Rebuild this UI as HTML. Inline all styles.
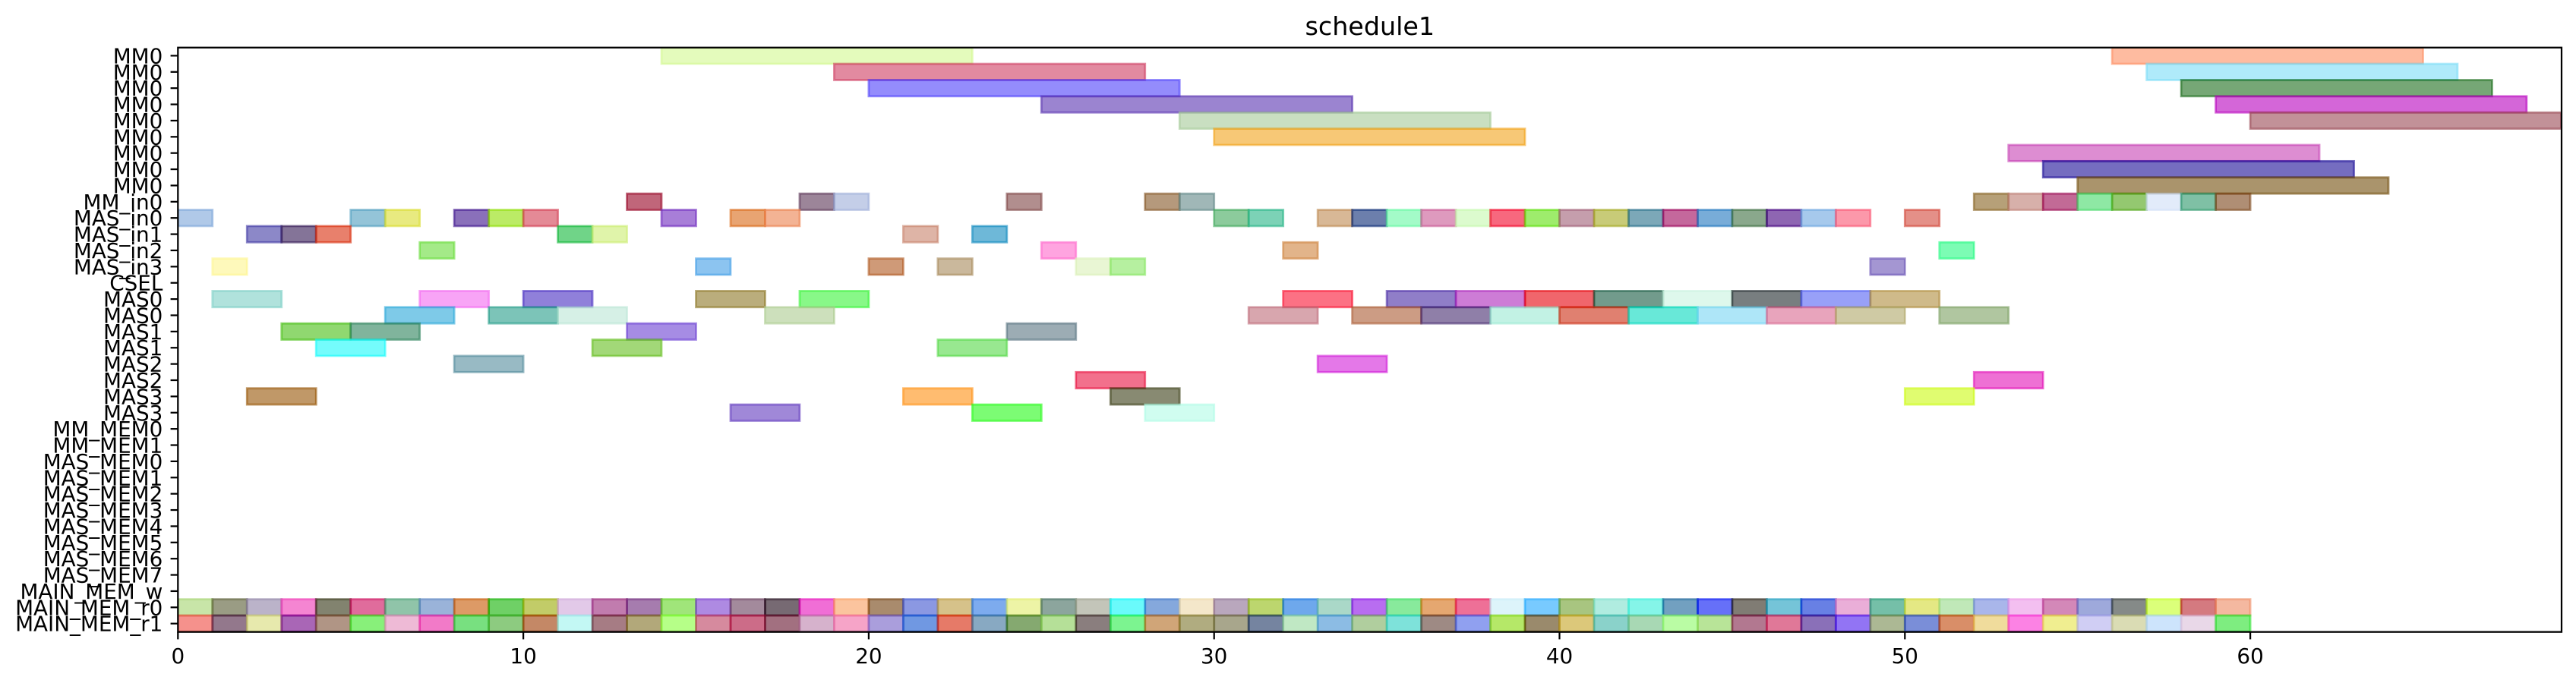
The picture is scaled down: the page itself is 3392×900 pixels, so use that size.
<!DOCTYPE html>
<html lang="en">
<head>
<meta charset="utf-8">
<title>schedule1</title>
<style>
html,body{margin:0;padding:0;background:#fff;width:3392px;height:900px;overflow:hidden}
svg{display:block}
text{font-family:"DejaVu Sans","Liberation Sans",sans-serif;fill:#000}
</style>
</head>
<body>
<svg id="chart" xmlns="http://www.w3.org/2000/svg" width="3392" height="900" viewBox="0 0 3392 900">
  <defs><clipPath id="axes-clip"><rect x="234.3" y="62.7" width="3138.7" height="770"></rect></clipPath></defs>
  <rect width="3392" height="900" fill="#fff"></rect>
  <text x="1803.8" y="46" font-size="33.33" text-anchor="middle">schedule1</text>
  <g id="bars" clip-path="url(#axes-clip)"></g>
  <g id="ticks"></g>
  <rect x="234.3" y="62.7" width="3138.7" height="770" fill="none" stroke="#000" stroke-width="2.22"></rect>
</svg>
<script>
const rowLabels = ["MM0","MM0","MM0","MM0","MM0","MM0","MM0","MM0","MM0","MM_in0","MAS_in0","MAS_in1","MAS_in2","MAS_in3","CSEL","MAS0","MAS0","MAS1","MAS1","MAS2","MAS2","MAS3","MAS3","MM_MEM0","MM_MEM1","MAS_MEM0","MAS_MEM1","MAS_MEM2","MAS_MEM3","MAS_MEM4","MAS_MEM5","MAS_MEM6","MAS_MEM7","MAIN_MEM_w","MAIN_MEM_r0","MAIN_MEM_r1"];
const xTickValues = [0,10,20,30,40,50,60];

const taskRows = [
0,0, 1,1, 2,2, 3,3, 4,4, 5, 6, 7, 8,
9,9,9,9,9,9,9,9,9,9,9,9,9,9,
10,10,10,10,10,10,10,10,10,10,10,10,10,10,10,10,10,10,10,10,10,10,10,10,10,10,10,10,
11,11,11,11,11,11,11,
12,12,12,12,
13,13,13,13,13,13,13,
15,15,15,15,15,15,15,15,15,15,15,15,15,15,
16,16,16,16,16,16,16,16,16,16,16,16,16,16,
17,17,17,17,
18,18,18,
19,19,
20,20,
21,21,21,21,
22,22,22,
34,34,34,34,34,34,34,34,34,34,34,34,34,34,34,34,34,34,34,34,34,34,34,34,34,34,34,34,34,34,
34,34,34,34,34,34,34,34,34,34,34,34,34,34,34,34,34,34,34,34,34,34,34,34,34,34,34,34,34,34,
35,35,35,35,35,35,35,35,35,35,35,35,35,35,35,35,35,35,35,35,35,35,35,35,35,35,35,35,35,35,
35,35,35,35,35,35,35,35,35,35,35,35,35,35,35,35,35,35,35,35,35,35,35,35,35,35,35,35,35,35
];
const taskStarts = [
14,56, 19,57, 20,58, 25,59, 29,60, 30, 53, 54, 55,
13,18,19,24,28,29,52,53,54,55,56,57,58,59,
0,5,6,8,9,10,14,16,17,30,31,33,34,35,36,37,38,39,40,41,42,43,44,45,46,47,48,50,
2,3,4,11,12,21,23,
7,25,32,51,
1,15,20,22,26,27,49,
1,7,10,15,18,32,35,37,39,41,43,45,47,49,
6,9,11,17,31,34,36,38,40,42,44,46,48,51,
3,5,13,24,
4,12,22,
8,33,
26,52,
2,21,27,50,
16,23,28,
0,1,2,3,4,5,6,7,8,9,10,11,12,13,14,15,16,17,18,19,20,21,22,23,24,25,26,27,28,29,
30,31,32,33,34,35,36,37,38,39,40,41,42,43,44,45,46,47,48,49,50,51,52,53,54,55,56,57,58,59,
0,1,2,3,4,5,6,7,8,9,10,11,12,13,14,15,16,17,18,19,20,21,22,23,24,25,26,27,28,29,
30,31,32,33,34,35,36,37,38,39,40,41,42,43,44,45,46,47,48,49,50,51,52,53,54,55,56,57,58,59
];
const taskEnds = [
23,65, 28,66, 29,67, 34,68, 38,69, 39, 62, 63, 64,
14,19,20,25,29,30,53,54,55,56,57,58,59,60,
1,6,7,9,10,11,15,17,18,31,32,34,35,36,37,38,39,40,41,42,43,44,45,46,47,48,49,51,
3,4,5,12,13,22,24,
8,26,33,52,
2,16,21,23,27,28,50,
3,9,12,17,20,34,37,39,41,43,45,47,49,51,
8,11,13,19,33,36,38,40,42,44,46,48,50,53,
5,7,15,26,
6,14,24,
10,35,
28,54,
4,23,29,52,
18,25,30,
1,2,3,4,5,6,7,8,9,10,11,12,13,14,15,16,17,18,19,20,21,22,23,24,25,26,27,28,29,30,
31,32,33,34,35,36,37,38,39,40,41,42,43,44,45,46,47,48,49,50,51,52,53,54,55,56,57,58,59,60,
1,2,3,4,5,6,7,8,9,10,11,12,13,14,15,16,17,18,19,20,21,22,23,24,25,26,27,28,29,30,
31,32,33,34,35,36,37,38,39,40,41,42,43,44,45,46,47,48,49,50,51,52,53,54,55,56,57,58,59,60
];

/* Appearance only: the colour each bar shows over white, one per task. */
const barPalette = [
"e4fbbc","febba0","e28aa0","afeafa","948cfc","76a776","9b84d0","d466d8","c9dfc1","c29198","f7c876","dd8dd2","756dc0","aa946c",
"c0667a","9c8599","c4cee8","b18e8e","b5997c","a0b7b7","b6a078","d7b0aa","c26a96","8ee8a4","94c870","e2ebfa","7fc0a5","af8e74",
"b0c9e8","94c4d8","e8ea80","8a70ba","bbeb66","e48a96","a87ed8","e8a472","f3b394","8ccb9c","7cd2b6","d8b896","6c7fac","a3fbc8","de9abe","dcfbce","f7687e","9eec6c","c59eac","c8cb78","7ca8b8","c4689c","78acd8","8aa88c","8e66b2","a6c9ec","fc98aa","e49088",
"8c88c8","847498","e8806c","70d488","e0f4aa","deb4a6","6eb8d8",
"a4ea88","ffa4e0","e2b48a","7cfcb4",
"fef9bb","8cc4f0","cf9a78","cab89c","e9f6d4","b6f0a0","a496d2",
"b0e2dc","f8a4f6","9080da","baad7c","88f888","fc7184","907ec8","cd7cd6","f0656c","729b8c","def8ec","787e80","98a0f8","cfba8a",
"7ecae8","7cc4b8","d6f0e6","cde0bc","d8a6ae","cc9c84","8f7fa8","c2f2e4","e08070","68e8d8","aee6f8","e8a4bc","cfcaa4","b0c6a0",
"90d870","80b49c","a68ce4","9cacb4",
"74fcfc","a2d878","98e890",
"98bac4","e478e8",
"f2708c","ee70d4",
"c09868","ffbc70","888a72","e0fc70",
"a088d8","7cfc74","d0fdf0",
"c8e5a8","9a9c84","bbb3c9","f585d2","82836f","e06c9c","90c4a9","9ab3d9","dd9a64","6fd066","c2cc68","e2c9e8","c17cae","a67cae","a0e57a","ae8ae2","a38a9c","776a73","f06ed6","fbc49e","a98b6d","8b98e2","d6c28a","7dabee","edf4a6","8ca59d","c3c5b9","6afafb","85a8dc","f4e7ca",
"b9a7bd","bcd66e","6ea8ec","aad8c8","b86df0","88ea9c","e5a770","ee7097","ddf4fa","78caff","a8c580","b0ece0","85f5e8","72a0c0","6670f8","807c74","75c4d8","6880e4","eaaed8","75bfa8","e4e884","c0e8b8","a9b6ea","f3bff0","d388b8","9ea9db","858a88","dbff7a","d47a80","f4b8a0",
"f5918c","93788c","e7e9ad","a966b6","b09585","88f07a","eebad6","f27ac8","78e080","8dcb80","c48864","c3f8f4","a67c84","b2a87a","b6ff88","d68a9e","cc6c88","a27080","d6b2cc","f6a4c8","aa9edc","7098e2","e67a68","88a9c2","85a970","b5e098","8a7e7e","7cf490","d0a578","b0ac80",
"a8a68c","7584a0","c0e8c4","8cbce4","b0ce9e","7ee2da","9e8a84","90a0f0","b5e868","9a8a6c","dcc87a","8ad2ca","a8d8b4","bafca4","b8e498","b27890","e07898","8a70b8","9274f4","acb894","7a8ed8","d98e68","f0dc9c","fc82e4","f0ee90","d0cef4","dadcb4","cde4fc","e9d8e8","7eed80"
];

const NS = "http://www.w3.org/2000/svg";
const plotLeft = 234.3, unitWidth = 45.48, firstRowY = 73.4, rowHeight = 21.38, plotBottom = 832.7;
const barAlpha = 0.6;
const xScale = v => plotLeft + unitWidth * v;
const yScale = r => firstRowY + rowHeight * r;

function baseColor(hex) {
  const out = [];
  for (let i = 0; i < 3; i++) {
    const seen = parseInt(hex.substr(i * 2, 2), 16);
    out.push(Math.max(0, Math.min(255, Math.round((seen - 255 * (1 - barAlpha)) / barAlpha))));
  }
  return "rgb(" + out.join(",") + ")";
}

const barsGroup = document.getElementById("bars");
const ticksGroup = document.getElementById("ticks");

taskStarts.forEach((start, i) => {
  const color = baseColor(barPalette[i % barPalette.length]);
  const rect = document.createElementNS(NS, "rect");
  rect.setAttribute("x", xScale(start));
  rect.setAttribute("y", yScale(taskRows[i]) - rowHeight / 2);
  rect.setAttribute("width", xScale(taskEnds[i]) - xScale(start));
  rect.setAttribute("height", rowHeight);
  rect.setAttribute("fill", color);
  rect.setAttribute("fill-opacity", barAlpha);
  rect.setAttribute("stroke", color);
  rect.setAttribute("stroke-opacity", barAlpha);
  rect.setAttribute("stroke-width", 2.78);
  
  
  barsGroup.appendChild(rect);
});

rowLabels.forEach((label, r) => {
  const y = yScale(r);
  const tick = document.createElementNS(NS, "line");
  tick.setAttribute("x1", plotLeft);
  tick.setAttribute("x2", plotLeft - 9.72);
  tick.setAttribute("y1", y);
  tick.setAttribute("y2", y);
  tick.setAttribute("stroke", "#000");
  tick.setAttribute("stroke-width", 2.22);
  
  
  ticksGroup.appendChild(tick);
  const text = document.createElementNS(NS, "text");
  text.setAttribute("x", plotLeft - 20);
  text.setAttribute("y", y + 10);
  text.setAttribute("font-size", 27.78);
  text.setAttribute("text-anchor", "end");
  text.textContent = label;
  
  
  ticksGroup.appendChild(text);
});

xTickValues.forEach(v => {
  const x = xScale(v);
  const tick = document.createElementNS(NS, "line");
  tick.setAttribute("x1", x);
  tick.setAttribute("x2", x);
  tick.setAttribute("y1", plotBottom);
  tick.setAttribute("y2", plotBottom + 9.72);
  tick.setAttribute("stroke", "#000");
  tick.setAttribute("stroke-width", 2.22);
  
  
  ticksGroup.appendChild(tick);
  const text = document.createElementNS(NS, "text");
  text.setAttribute("x", x);
  text.setAttribute("y", 874);
  text.setAttribute("font-size", 27.78);
  text.setAttribute("text-anchor", "middle");
  text.textContent = String(v);
  
  
  ticksGroup.appendChild(text);
});
</script>
</body>
</html>
